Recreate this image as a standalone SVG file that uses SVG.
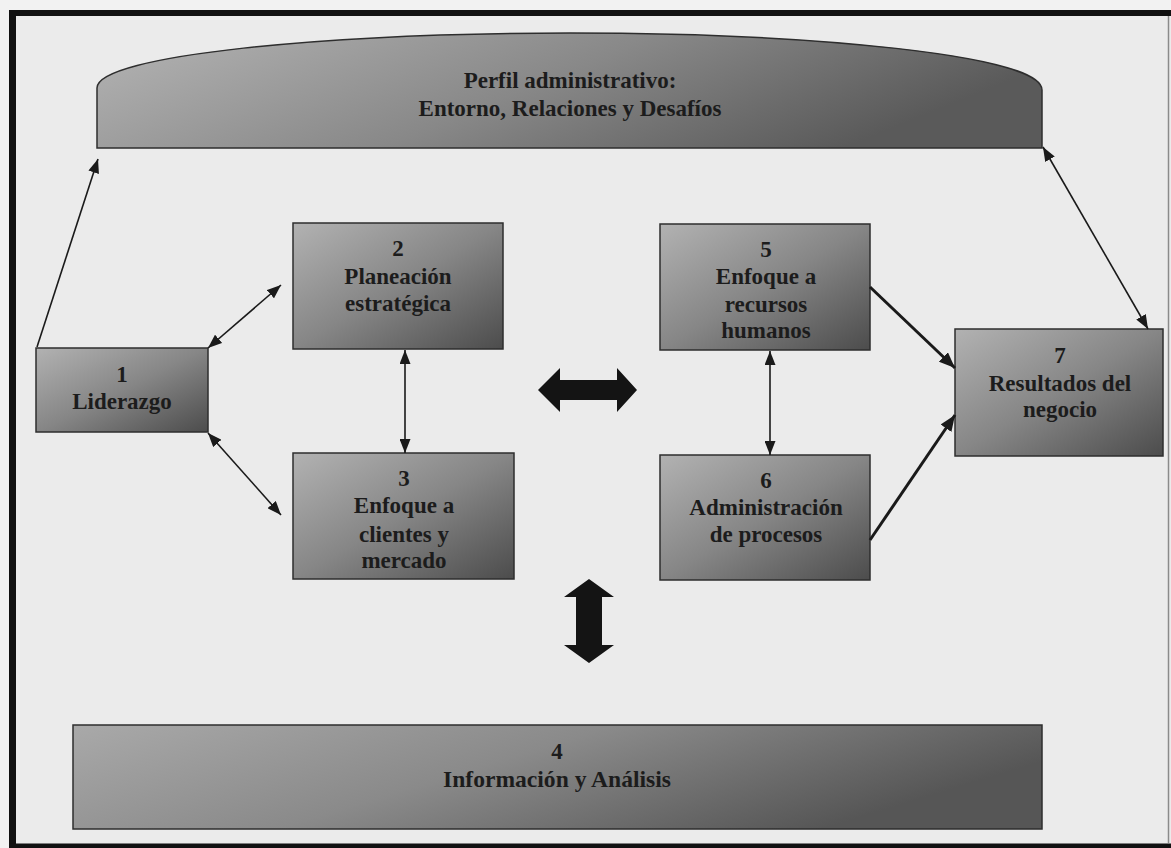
<svg xmlns="http://www.w3.org/2000/svg" width="1171" height="848" viewBox="0 0 1171 848">
  <defs>
    <linearGradient id="boxFill" x1="0" y1="0" x2="1" y2="1">
      <stop offset="0" stop-color="#b2b2b2"/>
      <stop offset="0.5" stop-color="#868686"/>
      <stop offset="1" stop-color="#4c4c4c"/>
    </linearGradient>
    <linearGradient id="wideFill" x1="0" y1="0" x2="1" y2="0.35">
      <stop offset="0" stop-color="#a9a9a9"/>
      <stop offset="0.5" stop-color="#8a8a8a"/>
      <stop offset="1" stop-color="#565656"/>
    </linearGradient>
    <linearGradient id="capFill" x1="0" y1="0" x2="1" y2="0.3">
      <stop offset="0" stop-color="#b5b5b5"/>
      <stop offset="0.55" stop-color="#888888"/>
      <stop offset="1" stop-color="#5a5a5a"/>
    </linearGradient>
    <marker id="tip" markerUnits="userSpaceOnUse" markerWidth="14" markerHeight="11" refX="14" refY="5.5" orient="auto-start-reverse" viewBox="0 0 14 11">
      <path d="M0,0 L14,5.5 L0,11 Z" fill="#1a1a1a"/>
    </marker>
    <marker id="tipBold" markerUnits="userSpaceOnUse" markerWidth="16" markerHeight="13" refX="16" refY="6.5" orient="auto-start-reverse" viewBox="0 0 16 13">
      <path d="M0,0 L16,6.5 L0,13 Z" fill="#1a1a1a"/>
    </marker>
    <style>
      .box { stroke: #2e2e2e; stroke-width: 1.5; }
      .lbl { font-family: "Liberation Serif", "Times New Roman", serif; font-weight: bold; font-size: 23px; fill: #1c1c1c; text-anchor: middle; }
      .thin { stroke: #1a1a1a; stroke-width: 1.6; fill: none; }
      .bold { stroke: #1a1a1a; stroke-width: 3; fill: none; }
      .block { fill: #141414; }
    </style>
  </defs>

  <!-- page background and frame -->
  <rect x="0" y="0" width="1171" height="848" fill="#f2f2f2"/>
  <rect x="12" y="13" width="1160" height="833" fill="#ebebeb"/>
  <g id="frame" fill="none" stroke="#111">
    <line x1="9" y1="13" x2="1171" y2="13" stroke-width="6"/>
    <line x1="12.5" y1="10" x2="12.5" y2="848" stroke-width="7"/>
    <line x1="9" y1="846" x2="1171" y2="846" stroke-width="5"/>
    <line x1="1168.5" y1="16" x2="1168.5" y2="843" stroke="#8a8a8a" stroke-width="1.5"/>
  </g>

  <!-- header banner -->
  <g id="perfil">
    <path class="box" fill="url(#capFill)" d="M97,148 L97,88 C97,55 330,33 570,33 C810,33 1042,55 1042,90 L1042,148 Z"/>
    <text class="lbl" x="570" y="88">Perfil administrativo:</text>
    <text class="lbl" x="570" y="116">Entorno, Relaciones y Desafíos</text>
  </g>

  <g id="n1">
    <rect class="box" fill="url(#boxFill)" x="36" y="348" width="172" height="84"/>
    <text class="lbl" x="122" y="382">1</text>
    <text class="lbl" x="122" y="409">Liderazgo</text>
  </g>

  <g id="n2">
    <rect class="box" fill="url(#boxFill)" x="293" y="223" width="210" height="126"/>
    <text class="lbl" x="398" y="256">2</text>
    <text class="lbl" x="398" y="284">Planeación</text>
    <text class="lbl" x="398" y="311">estratégica</text>
  </g>

  <g id="n3">
    <rect class="box" fill="url(#boxFill)" x="293" y="453" width="221" height="126"/>
    <text class="lbl" x="404" y="486">3</text>
    <text class="lbl" x="404" y="513">Enfoque a</text>
    <text class="lbl" x="404" y="542">clientes y</text>
    <text class="lbl" x="404" y="568">mercado</text>
  </g>

  <g id="n5">
    <rect class="box" fill="url(#boxFill)" x="660" y="224" width="210" height="126"/>
    <text class="lbl" x="766" y="257">5</text>
    <text class="lbl" x="766" y="284">Enfoque a</text>
    <text class="lbl" x="766" y="312">recursos</text>
    <text class="lbl" x="766" y="338">humanos</text>
  </g>

  <g id="n6">
    <rect class="box" fill="url(#boxFill)" x="660" y="455" width="210" height="125"/>
    <text class="lbl" x="766" y="488">6</text>
    <text class="lbl" x="766" y="515">Administración</text>
    <text class="lbl" x="766" y="542">de procesos</text>
  </g>

  <g id="n7">
    <rect class="box" fill="url(#boxFill)" x="955" y="329" width="208" height="127"/>
    <text class="lbl" x="1060" y="363">7</text>
    <text class="lbl" x="1060" y="391">Resultados del</text>
    <text class="lbl" x="1060" y="417">negocio</text>
  </g>

  <g id="n4">
    <rect class="box" fill="url(#wideFill)" x="73" y="725" width="969" height="104"/>
    <text class="lbl" x="557" y="759" font-size="21">4</text>
    <text class="lbl" x="557" y="787" font-size="21" textLength="228" lengthAdjust="spacingAndGlyphs">Información y Análisis</text>
  </g>

  <g id="connectors">
    <line class="thin" x1="37" y1="347" x2="98" y2="159" marker-end="url(#tip)"/>
    <line class="thin" x1="1043" y1="147" x2="1148" y2="329" marker-start="url(#tip)" marker-end="url(#tip)"/>
    <line class="thin" x1="208" y1="348" x2="281" y2="285" marker-start="url(#tip)" marker-end="url(#tip)"/>
    <line class="thin" x1="208" y1="433" x2="281" y2="515" marker-start="url(#tip)" marker-end="url(#tip)"/>
    <line class="thin" x1="405" y1="350" x2="405" y2="453" marker-start="url(#tip)" marker-end="url(#tip)"/>
    <line class="thin" x1="770" y1="351" x2="770" y2="455" marker-start="url(#tip)" marker-end="url(#tip)"/>
    <line class="bold" x1="870" y1="287" x2="955" y2="368" marker-end="url(#tipBold)"/>
    <line class="bold" x1="870" y1="540" x2="955" y2="415" marker-end="url(#tipBold)"/>
    <!-- block double arrows -->
    <path class="block" d="M538,390 L560,368 L560,380 L617,380 L617,368 L637,390 L617,412 L617,400 L560,400 L560,412 Z"/>
    <path class="block" d="M589,579 L614,597 L602,597 L602,645 L614,645 L589,663 L564,645 L576,645 L576,597 L564,597 Z"/>
  </g>
</svg>
